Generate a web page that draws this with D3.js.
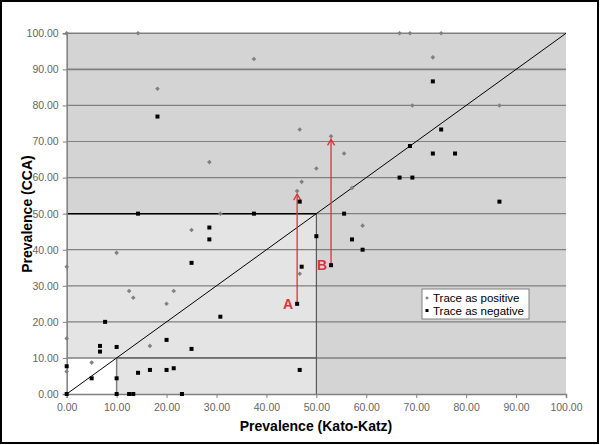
<!DOCTYPE html>
<html><head><meta charset="utf-8">
<script src="https://cdn.jsdelivr.net/npm/d3@7"></script>
<style>
html,body{margin:0;padding:0;background:#fff;}
svg{display:block;font-family:"Liberation Sans",Arial,sans-serif;}
</style></head>
<body><svg id="c" width="600" height="445"></svg>
<script>
const ticks = [0,10,20,30,40,50,60,70,80,90,100];
const positiveKK  = [0,14.29,66.67,68.75,75,73.33,37.5,18.18,69.23,86.67,46.67,52.94,55.56,28.57,50,47.06,57.14,46.15,30.77,25,59.26,10,0,46.67,12.5,13.33,21.43,20,0,16.67,5,0];
const positiveCCA = [100,100,100,100,100,93.33,92.86,84.62,80,80,73.33,71.43,66.67,64.29,62.5,58.82,57.14,56.25,50,45.45,46.67,39.13,35.29,33.33,28.57,26.67,28.57,25,15.38,13.33,8.7,6.25];
const negativeKK  = [18.18,73.33,75,68.75,73.33,77.78,66.67,69.23,46.67,86.67,55.56,14.29,37.5,28.57,28.57,50,57.14,59.26,52.94,47.06,25,46.15,30.77,7.69,6.67,6.67,10,20,25,0,5,10,14.29,16.67,20,21.43,46.67,0,10,12.5,13.33,23.08];
const negativeCCA = [76.92,86.67,73.33,68.75,66.67,66.67,60,60,53.33,53.33,50,50,50,46.15,42.86,43.75,42.86,40,35.71,35.29,36.36,25,21.43,20,13.33,11.76,13.04,15,12.5,7.69,4.35,4.35,5.88,6.67,6.67,7.14,6.67,0,0,0,0,0];
const arrowLabels = ["A","B"];
const arrowKK   = [46.15,52.94];
const arrowFrom = [25,35.71];
const arrowTo   = [56.25,71.43];
const legendLabels = ["Trace as positive","Trace as negative"];

const svg = d3.select("#c");
const x = d3.scaleLinear().domain([0,100]).range([66.7,566]);
const y = d3.scaleLinear().domain([0,100]).range([394,33.3]);

// outer border
svg.append("rect").attr("x",1).attr("y",1).attr("width",597).attr("height",442)
  .attr("fill","#fff").attr("stroke","#000").attr("stroke-width",2);

// plot background
svg.append("rect").attr("x",x(0)).attr("y",y(100)).attr("width",x(100)-x(0)).attr("height",y(0)-y(100))
  .attr("fill","#d4d4d4");
// light region 0-50
svg.append("rect").attr("x",x(0)).attr("y",y(50)).attr("width",x(50)-x(0)).attr("height",y(0)-y(50))
  .attr("fill","#e4e4e4");
// white region 0-10
svg.append("rect").attr("x",x(0)).attr("y",y(10)).attr("width",x(10)-x(0)).attr("height",y(0)-y(10))
  .attr("fill","#ffffff");

// gridlines
svg.append("g").selectAll("line").data(ticks.filter(t=>t>0)).join("line")
  .attr("x1",x(0)).attr("x2",x(100)).attr("y1",d=>y(d)).attr("y2",d=>y(d))
  .attr("stroke","#808080").attr("stroke-width",d=>(d===10||d===90||d===100)?1.6:1.2);

// region borders
svg.append("line").attr("x1",x(0)).attr("x2",x(50)).attr("y1",y(50)).attr("y2",y(50)).attr("stroke","#000").attr("stroke-width",1.5);
svg.append("line").attr("x1",x(50)).attr("x2",x(50)).attr("y1",y(50)).attr("y2",y(0)).attr("stroke","#404040").attr("stroke-width",1);
svg.append("line").attr("x1",x(10)).attr("x2",x(50)).attr("y1",y(10)).attr("y2",y(10)).attr("stroke","#707070").attr("stroke-width",1.8);
svg.append("line").attr("x1",x(10)).attr("x2",x(10)).attr("y1",y(10)).attr("y2",y(0)).attr("stroke","#808080").attr("stroke-width",1.5);

// diagonal
svg.append("line").attr("x1",x(0)).attr("y1",y(0)).attr("x2",x(100)).attr("y2",y(100))
  .attr("stroke","#000").attr("stroke-width",1);

// axes
const yAxis = svg.append("g").attr("transform",`translate(${x(0)},0)`)
  .call(d3.axisLeft(y).tickValues(ticks).tickFormat(d3.format(".2f")).tickSize(4).tickPadding(4));
const xAxis = svg.append("g").attr("transform",`translate(0,${y(0)})`)
  .call(d3.axisBottom(x).tickValues(ticks).tickFormat(d3.format(".2f")).tickSize(4).tickPadding(6));
[yAxis,xAxis].forEach(a=>{
  a.select(".domain").attr("stroke","#808080").attr("stroke-width",1.5);
  a.selectAll(".tick line").attr("stroke","#808080");
  a.selectAll("text").attr("fill","#666").style("font-size","10.5px").style("font-family","'Liberation Sans',Arial,sans-serif");
});

// axis titles
svg.append("text").attr("x",316).attr("y",431).attr("text-anchor","middle")
  .style("font-size","14px").style("font-weight","bold").text("Prevalence (Kato-Katz)");
svg.append("text").attr("transform","translate(32,214) rotate(-90)").attr("text-anchor","middle")
  .style("font-size","14px").style("font-weight","bold").text("Prevalence (CCA)");

// arrows
const red = "#e0303a";
arrowKK.forEach((k,i)=>{
  const xp = x(k), y0 = y(arrowFrom[i]), y1 = y(arrowTo[i]) + 3;
  svg.append("line").attr("x1",xp).attr("x2",xp).attr("y1",y0).attr("y2",y1).attr("stroke",red).attr("stroke-width",1.3);
  svg.append("path").attr("d",`M${xp-3.5},${y1+6}L${xp},${y1}L${xp+3.5},${y1+6}`)
    .attr("fill","none").attr("stroke",red).attr("stroke-width",1.3);
  svg.append("text").attr("x",xp-4).attr("y",y(arrowFrom[i])+5).attr("text-anchor","end")
    .attr("fill",red).style("font-size","14px").style("font-weight","bold").text(arrowLabels[i]);
});

// points
const pos = positiveKK.map((v,i)=>[v,positiveCCA[i]]);
const neg = negativeKK.map((v,i)=>[v,negativeCCA[i]]);
svg.append("g").selectAll("path").data(pos).join("path")
  .attr("d",d=>`M${x(d[0])},${y(d[1])-2.3}l2.3,2.3l-2.3,2.3l-2.3,-2.3z`).attr("fill","#808080");
svg.append("g").selectAll("rect").data(neg).join("rect")
  .attr("x",d=>x(d[0])-2).attr("y",d=>y(d[1])-2).attr("width",4).attr("height",4).attr("fill","#000");

// legend
const lg = svg.append("g").attr("transform","translate(422,289)");
lg.append("rect").attr("width",107).attr("height",30).attr("fill","#fff").attr("stroke","#808080").attr("stroke-width",1);
legendLabels.forEach((t,i)=>{
  const cy = 9 + i*12.5;
  if(i===0) lg.append("path").attr("d",`M5,${cy-1.8}l1.8,1.8l-1.8,1.8l-1.8,-1.8z`).attr("fill","#808080");
  else lg.append("rect").attr("x",3.5).attr("y",cy-1.5).attr("width",3).attr("height",3).attr("fill","#000");
  lg.append("text").attr("x",11).attr("y",cy+4).style("font-size","11.5px").attr("fill","#000").text(t);
});
</script>
</body></html>
